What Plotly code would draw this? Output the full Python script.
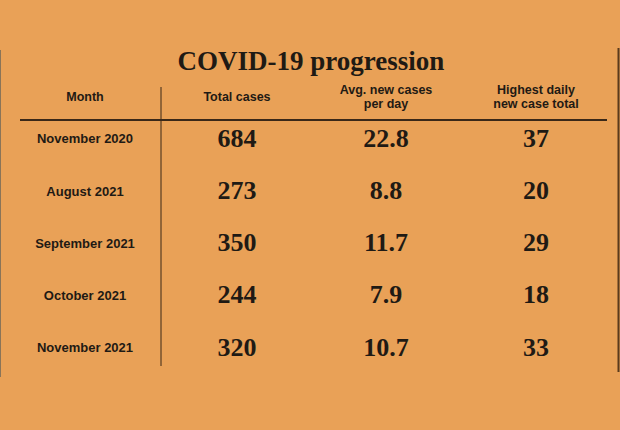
import plotly.graph_objects as go

# ---- data ----
title = "COVID-19 progression"
headers = ["Month", "Total cases", "Avg. new cases<br>per day", "Highest daily<br>new case total"]
months = ["November 2020", "August 2021", "September 2021", "October 2021", "November 2021"]
total_cases = ["684", "273", "350", "244", "320"]
avg_new_cases = ["22.8", "8.8", "11.7", "7.9", "10.7"]
highest_daily = ["37", "20", "29", "18", "33"]

# ---- layout (pixel space) ----
W, H = 620, 430
BG = "#E9A157"
INK = "#1f1a14"
LINE = "#3a2818"
col_x = [85, 237, 386, 536]
row_y0, row_dy = 140, 52.3
header_y = 98
header_line_gap = 14
title_y = 63

serif = "Liberation Serif"
sans = "Liberation Sans, Arial"

row_y = [row_y0 + i * row_dy for i in range(len(months))]

fig = go.Figure()

# title
fig.add_trace(go.Scatter(x=[311], y=[title_y], mode="text", text=[title],
                         textfont=dict(family=serif, size=27, color=INK, weight="bold"),
                         hoverinfo="skip"))
# headers (each line placed separately for tight leading)
hx, hy, ht = [], [], []
for x, h in zip(col_x, headers):
    lines = h.split("<br>")
    n = len(lines)
    for k, ln in enumerate(lines):
        hx.append(x)
        hy.append(header_y + (k - (n - 1) / 2) * header_line_gap)
        ht.append(ln)
fig.add_trace(go.Scatter(x=hx, y=hy, mode="text", text=ht,
                         textfont=dict(family=sans, size=12.5, color=INK, weight="bold"),
                         hoverinfo="skip"))
# month labels
fig.add_trace(go.Scatter(x=[col_x[0]] * len(months), y=row_y, mode="text", text=months,
                         textfont=dict(family=sans, size=13, color=INK, weight="bold"),
                         hoverinfo="skip"))
# numeric columns
for ci, col in enumerate([total_cases, avg_new_cases, highest_daily], start=1):
    fig.add_trace(go.Scatter(x=[col_x[ci]] * len(col), y=row_y, mode="text", text=col,
                             textfont=dict(family=serif, size=26, color=INK, weight="bold"),
                             hoverinfo="skip"))

shapes = [
    dict(type="line", x0=20, x1=607, y0=120, y1=120, line=dict(color=LINE, width=2)),
    dict(type="line", x0=161, x1=161, y0=87, y1=366, line=dict(color=LINE, width=1)),
    dict(type="line", x0=0.5, x1=0.5, y0=50, y1=377, line=dict(color="#8a7458", width=1)),
    dict(type="line", x0=618.5, x1=618.5, y0=48, y1=372, line=dict(color="#5a3a1c", width=2)),
]
for s in shapes:
    s.update(xref="x", yref="y", layer="above")

fig.update_layout(
    width=W, height=H,
    margin=dict(l=0, r=0, t=0, b=0),
    paper_bgcolor=BG, plot_bgcolor=BG,
    showlegend=False,
    shapes=shapes,
    xaxis=dict(range=[0, W], visible=False, fixedrange=True),
    yaxis=dict(range=[H, 0], visible=False, fixedrange=True),
)

fig.write_html("out.html", config={"displayModeBar": False},
               post_script="document.body.style.margin='0';document.body.style.background='" + BG + "';")
